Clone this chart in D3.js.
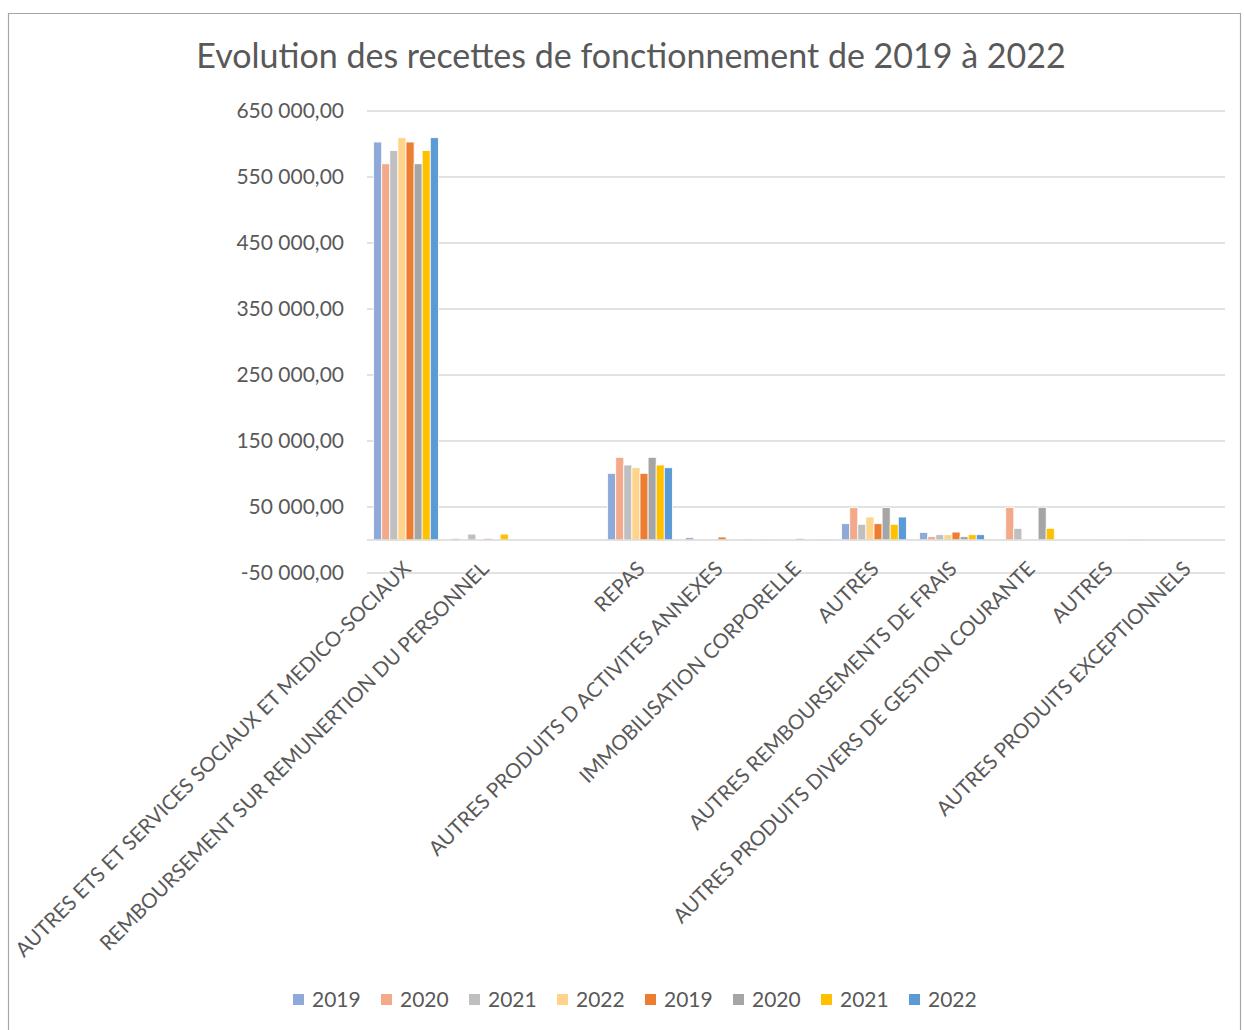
<!DOCTYPE html>
<html><head><meta charset="utf-8">
<script src="https://cdn.jsdelivr.net/npm/d3@7"></script>
<style>body{margin:0;background:#fff}svg{display:block}text{font-family:Lato,"Open Sans",sans-serif;fill:#595959}</style>
</head><body><svg id="c" width="1244" height="1030"></svg>
<script>
const categories = ["AUTRES ETS ET SERVICES SOCIAUX ET MEDICO-SOCIAUX","REMBOURSEMENT SUR REMUNERTION DU PERSONNEL","","REPAS","AUTRES PRODUITS D ACTIVITES ANNEXES","IMMOBILISATION CORPORELLE","AUTRES","AUTRES REMBOURSEMENTS DE FRAIS","AUTRES PRODUITS DIVERS DE GESTION COURANTE","AUTRES","AUTRES PRODUITS EXCEPTIONNELS"];
const seriesNames = ["2019","2020","2021","2022","2019","2020","2021","2022"];
const s2019a = [603000, 2500, 0, 101000, 3500, 1500, 24700, 11500, 0, 0, 0];
const s2020a = [570000, 0, 0, 125300, 0, 0, 49000, 5000, 49500, 0, 0];
const s2021a = [590000, 9000, 0, 113600, 0, 0, 23800, 8000, 17700, 0, 0];
const s2022a = [609500, 0, 0, 109500, 1500, 1000, 34800, 8000, 0, 1500, 0];
const s2019b = [603000, 2500, 0, 101000, 4500, 2500, 24700, 12000, 0, 0, 0];
const s2020b = [570000, 0, 0, 125300, 0, 0, 49000, 5000, 49500, 0, 0];
const s2021b = [590000, 9000, 0, 113600, 0, 0, 23800, 8000, 17700, 0, 0];
const s2022b = [609500, 0, 0, 109500, 1500, 1500, 34800, 8000, 0, 1500, 0];
const yTicks = [-50000, 50000, 150000, 250000, 350000, 450000, 550000, 650000];
const colors = ["#8FA9D9","#F2AA8B","#BFBFBF","#FFD38A","#ED7D31","#A5A5A5","#FFC000","#5B9BD5"];

const series = [s2019a,s2020a,s2021a,s2022a,s2019b,s2020b,s2021b,s2022b];
const svg = d3.select("#c");

// border
svg.append("path").attr("d","M8.5,1030 V13.5 H1240.5 V1030").attr("fill","none").attr("stroke","#A6A6A6").attr("stroke-width",1.2);

svg.append("text").attr("x",631).attr("y",68).attr("text-anchor","middle")
  .style("font-size","34px").text("Evolution des recettes de fonctionnement de 2019 à 2022");

const x0 = d3.scaleBand().domain(d3.range(categories.length)).range([367,1225]).paddingInner(0.17).paddingOuter(0.085);
const x1 = d3.scaleBand().domain(d3.range(series.length)).range([0,x0.bandwidth()]);
const y = d3.scaleLinear().domain([-50000,650000]).range([573,111]);

const fmt = v => {
  const s = d3.format(",.2f")(v).replace(/,/g," ").replace(".",",");
  return s.replace("−","-");
};

// gridlines
svg.append("g").selectAll("line").data(yTicks).join("line")
  .attr("x1",367).attr("x2",1225).attr("y1",d=>y(d)).attr("y2",d=>y(d))
  .attr("stroke","#D9D9D9").attr("stroke-width",1.3);

svg.append("g").selectAll("text").data(yTicks).join("text")
  .attr("x",344).attr("y",d=>y(d)).attr("dy","0.35em").attr("text-anchor","end")
  .style("font-size","21px").text(d=>fmt(d));

// bars
const g = svg.append("g");
series.forEach((s,si)=>{
  g.append("g").selectAll("rect").data(s).join("rect")
    .attr("x",(d,i)=>x0(i)+x1(si))
    .attr("width",x1.bandwidth())
    .attr("y",d=>y(Math.max(d,0)))
    .attr("height",d=>Math.abs(y(d)-y(0)))
    .attr("fill",colors[si]).attr("stroke","#fff").attr("stroke-width",0.8);
});

// zero axis line
svg.append("line").attr("x1",367).attr("x2",1225).attr("y1",y(0)).attr("y2",y(0))
  .attr("stroke","#D9D9D9").attr("stroke-width",1.6);

// category labels
svg.append("g").selectAll("text").data(categories).join("text")
  .attr("transform",(d,i)=>`translate(${x0(i)+x0.bandwidth()/2+1},${y(0)+25}) rotate(-45)`)
  .attr("text-anchor","end").attr("dy","0.35em")
  .style("font-size","20.5px").text(d=>d);

// legend
const lg = svg.append("g").selectAll("g").data(seriesNames).join("g")
  .attr("transform",(d,i)=>`translate(${293+i*88},994)`);
lg.append("rect").attr("width",11).attr("height",11).attr("fill",(d,i)=>colors[i]);
lg.append("text").attr("x",19).attr("y",5.5).attr("dy","0.35em").style("font-size","21px").text(d=>d);
</script></body></html>
